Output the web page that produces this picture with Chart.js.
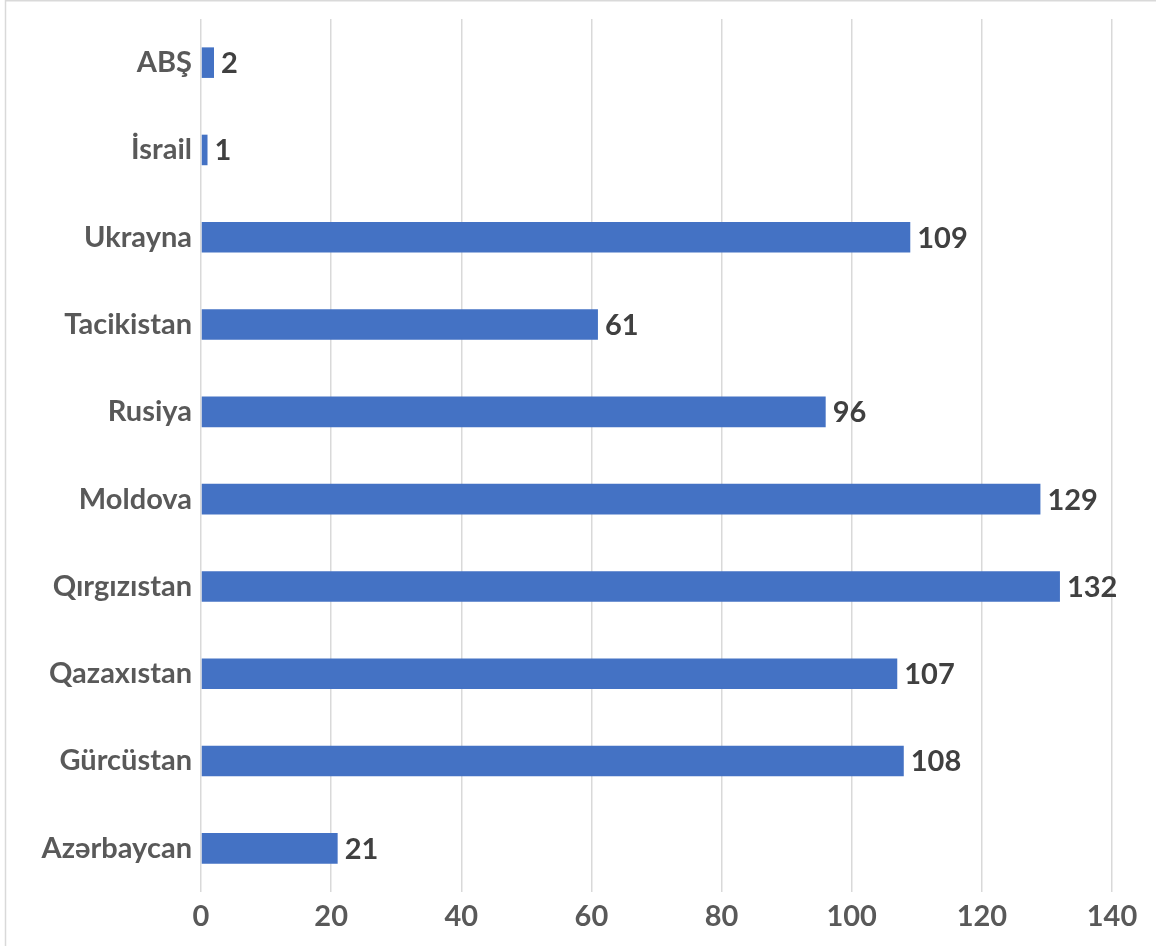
<!DOCTYPE html>
<html>
<head>
<meta charset="utf-8">
<script src="https://cdn.jsdelivr.net/npm/chart.js@4.4.1/dist/chart.umd.min.js"></script>
<style>
  html, body { margin: 0; padding: 0; background: #fff; }
  #wrap { width: 1156px; height: 946px; position: relative; }
</style>
</head>
<body>
<div id="wrap"><canvas id="myChart" width="1156" height="946"></canvas></div>
<script>
  const countries = ['ABŞ', 'İsrail', 'Ukrayna', 'Tacikistan', 'Rusiya', 'Moldova', 'Qırgızıstan', 'Qazaxıstan', 'Gürcüstan', 'Azərbaycan'];
  const counts = [2, 1, 109, 61, 96, 129, 132, 107, 108, 21];
  const xTicks = [0, 20, 40, 60, 80, 100, 120, 140];

  const fontFamily = 'Lato, "Open Sans", sans-serif';
  const fontSize = 29;

  // value written just past the end of each bar
  const barValues = {
    id: 'barValues',
    afterDatasetsDraw(chart) {
      const c = chart.ctx;
      const meta = chart.getDatasetMeta(0);
      c.save();
      c.font = 'bold ' + fontSize + 'px ' + fontFamily;
      c.fillStyle = '#404040';
      c.textAlign = 'left';
      c.textBaseline = 'middle';
      meta.data.forEach((bar, i) => {
        c.fillText(String(counts[i]), bar.x + 7, bar.y + 1);
      });
      c.restore();
    }
  };

  // thin frame on the left and top edge
  const frame = {
    id: 'frame',
    beforeDraw(chart) {
      const c = chart.ctx;
      c.save();
      c.strokeStyle = '#d9d9d9';
      c.lineWidth = 1.5;
      c.beginPath();
      c.moveTo(5.5, chart.height);
      c.lineTo(5.5, 0.75);
      c.lineTo(chart.width, 0.75);
      c.stroke();
      c.restore();
    }
  };

  const ctx = document.getElementById('myChart');

  new Chart(ctx, {
    type: 'bar',
    data: {
      labels: countries,
      datasets: [{
        data: counts,
        backgroundColor: '#4472C4',
        borderWidth: 0,
        categoryPercentage: 1,
        barPercentage: 0.35
      }]
    },
    options: {
      indexAxis: 'y',
      responsive: false,
      animation: false,
      layout: { padding: { top: 19, right: 44, left: 0, bottom: 0 } },
      plugins: {
        legend: { display: false },
        tooltip: { enabled: false }
      },
      scales: {
        x: {
          min: 0,
          max: 140,
          afterBuildTicks: (scale) => { scale.ticks = xTicks.map(v => ({ value: v })); },
          afterFit: (scale) => { scale.height = 54; },
          grid: { color: '#d9d9d9', lineWidth: 1.5, drawTicks: false },
          border: { display: false },
          ticks: {
            padding: 7,
            color: '#595959',
            font: { family: fontFamily, size: fontSize, weight: 'bold' }
          }
        },
        y: {
          afterFit: (scale) => {
            scale.width = 201;
            scale.paddingTop = 0;
            scale.paddingBottom = 0;
          },
          grid: { display: false, drawTicks: false },
          border: { display: false },
          ticks: {
            padding: 9,
            color: '#595959',
            font: { family: fontFamily, size: fontSize, weight: 'bold' }
          }
        }
      }
    },
    plugins: [frame, barValues]
  });
</script>
</body>
</html>
